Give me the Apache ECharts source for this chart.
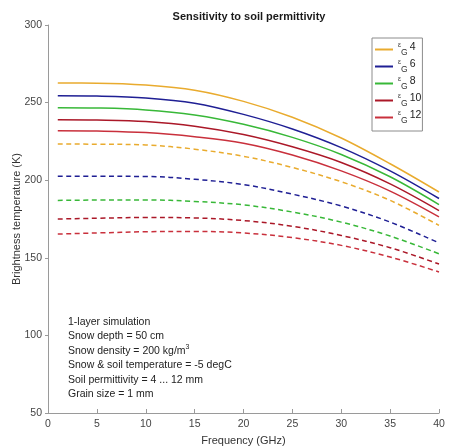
<!DOCTYPE html>
<html>
<head>
<meta charset="utf-8">
<style>
  html, body { margin: 0; padding: 0; background: #fff; }
  #chart { width: 449px; height: 448px; }
</style>
<script src="https://cdn.jsdelivr.net/npm/echarts@6/dist/echarts.min.js"></script>
</head>
<body>
<div id="chart"></div>
<script>
// Frequencies (GHz) at which brightness temperatures are tabulated
const freqs = [1, 5, 10, 15, 20, 25, 30, 35, 40];

// Soil permittivity cases
const permittivities = ['4', '6', '8', '10', '12'];
const colors = ['#e9ab2e', '#1f1f94', '#38b838', '#ab1828', '#c9303c'];

// Solid curves (K)
const tbSolid4  = [262.6, 262.5, 261.3, 258.0, 250.8, 240.6, 227.2, 210.6, 192.4];
const tbSolid6  = [254.4, 254.2, 253.0, 249.6, 242.4, 233.0, 221.0, 206.0, 188.2];
const tbSolid8  = [246.7, 246.5, 245.3, 242.0, 236.0, 227.6, 216.6, 202.2, 184.3];
const tbSolid10 = [239.0, 238.8, 237.8, 234.8, 229.4, 221.5, 211.4, 197.6, 180.4];
const tbSolid12 = [231.9, 231.7, 230.7, 228.0, 223.8, 216.2, 206.0, 193.0, 176.4];

// Dashed curves (K)
const tbDash4  = [223.3, 223.2, 222.7, 220.0, 215.4, 208.2, 199.0, 187.0, 170.9];
const tbDash6  = [202.5, 202.5, 202.4, 200.6, 197.2, 191.0, 183.4, 173.0, 159.6];
const tbDash8  = [187.0, 187.2, 187.3, 186.3, 184.1, 179.5, 173.0, 164.0, 152.6];
const tbDash10 = [175.0, 175.5, 176.0, 175.7, 174.0, 170.3, 164.4, 156.5, 146.0];
const tbDash12 = [165.3, 166.0, 166.8, 167.0, 166.0, 163.0, 158.0, 150.5, 140.9];

const solidSets = [tbSolid4, tbSolid6, tbSolid8, tbSolid10, tbSolid12];
const dashSets = [tbDash4, tbDash6, tbDash8, tbDash10, tbDash12];

// Axis ticks
const xTicks = { min: 0, max: 40, step: 5 };
const yTicks = { min: 50, max: 300, step: 50 };

// Simulation parameters printed in the lower-left corner
const noteLines = [
  '1-layer simulation',
  'Snow depth = 50 cm',
  'Snow density = 200 kg/m{sup|3}',
  'Snow & soil temperature = -5 degC',
  'Soil permittivity = 4 ... 12 mm',
  'Grain size = 1 mm'
];

const font = '"Liberation Sans", Arial, sans-serif';
const pair = (vals) => freqs.map((f, i) => [f, vals[i]]);

const series = [];
permittivities.forEach((p, k) => {
  series.push({
    name: 'eps' + p,
    type: 'line',
    data: pair(solidSets[k]),
    smooth: 0.35,
    showSymbol: false,
    lineStyle: { color: colors[k], width: 1.5 },
    itemStyle: { color: colors[k] },
    z: 3
  });
});
permittivities.forEach((p, k) => {
  series.push({
    name: 'eps' + p + '-dashed',
    type: 'line',
    data: pair(dashSets[k]),
    smooth: 0.35,
    showSymbol: false,
    lineStyle: { color: colors[k], width: 1.5, type: [5, 3.5] },
    itemStyle: { color: colors[k] },
    z: 2
  });
});

const chart = echarts.init(document.getElementById('chart'), null, { renderer: 'canvas' });
chart.setOption({
  backgroundColor: '#ffffff',
  animation: false,
  title: {
    text: 'Sensitivity to soil permittivity',
    left: 244,
    textAlign: 'center',
    top: 6,
    textStyle: { fontFamily: font, fontSize: 11, fontWeight: 'bold', color: '#1a1a1a' }
  },
  grid: {
    left: 48, right: 10, top: 25, bottom: 35,
    containLabel: false,
    outerBoundsMode: 'none'
  },
  legend: {
    data: permittivities.map(p => 'eps' + p),
    orient: 'vertical',
    left: 372,
    top: 38,
    padding: [4, 1, 6, 3],
    itemGap: 2,
    itemWidth: 18,
    itemHeight: 2,
    icon: 'rect',
    borderColor: '#8c8c8c',
    borderWidth: 1,
    backgroundColor: '#ffffff',
    formatter: (name) => '{e|ε}{g|G}{n|' + name.slice(3) + '}',
    textStyle: {
      fontFamily: font,
      color: '#222',
      lineHeight: 15,
      rich: {
        e: { fontSize: 7, color: '#333', verticalAlign: 'top', padding: [0, 0, 5, 0] },
        g: { fontSize: 8.5, color: '#333', padding: [6, 2, 0, 0] },
        n: { fontSize: 10.5, color: '#222', padding: [0, 0, 4, 0] }
      }
    }
  },
  xAxis: {
    type: 'value',
    min: xTicks.min,
    max: xTicks.max,
    interval: xTicks.step,
    name: 'Frequency (GHz)',
    nameLocation: 'middle',
    nameGap: 22,
    nameMoveOverlap: false,
    nameTextStyle: { fontFamily: font, fontSize: 11, color: '#333' },
    axisLine: { lineStyle: { color: '#9a9a9a', width: 1 } },
    axisTick: { inside: true, length: 4, lineStyle: { color: '#9a9a9a' } },
    axisLabel: { fontFamily: font, fontSize: 10.5, color: '#444', margin: 6 },
    splitLine: { show: false }
  },
  yAxis: {
    type: 'value',
    min: yTicks.min,
    max: yTicks.max,
    interval: yTicks.step,
    name: 'Brightness temperature (K)',
    nameLocation: 'middle',
    nameGap: 26,
    nameMoveOverlap: false,
    nameTextStyle: { fontFamily: font, fontSize: 11, color: '#333' },
    axisLine: { show: true, lineStyle: { color: '#9a9a9a', width: 1 } },
    axisTick: { show: true, inside: false, length: 3, lineStyle: { color: '#9a9a9a' } },
    axisLabel: { fontFamily: font, fontSize: 10.5, color: '#444', margin: 6 },
    splitLine: { show: false }
  },
  graphic: [{
    type: 'text',
    left: 68,
    top: 315,
    style: {
      text: noteLines.join('\n'),
      fontFamily: font,
      fontSize: 10.5,
      lineHeight: 14.4,
      fill: '#222',
      rich: {
        sup: { fontSize: 7, fill: '#222', verticalAlign: 'top', padding: [0, 0, 6, 0] }
      }
    }
  }],
  series: series
});
</script>
</body>
</html>
